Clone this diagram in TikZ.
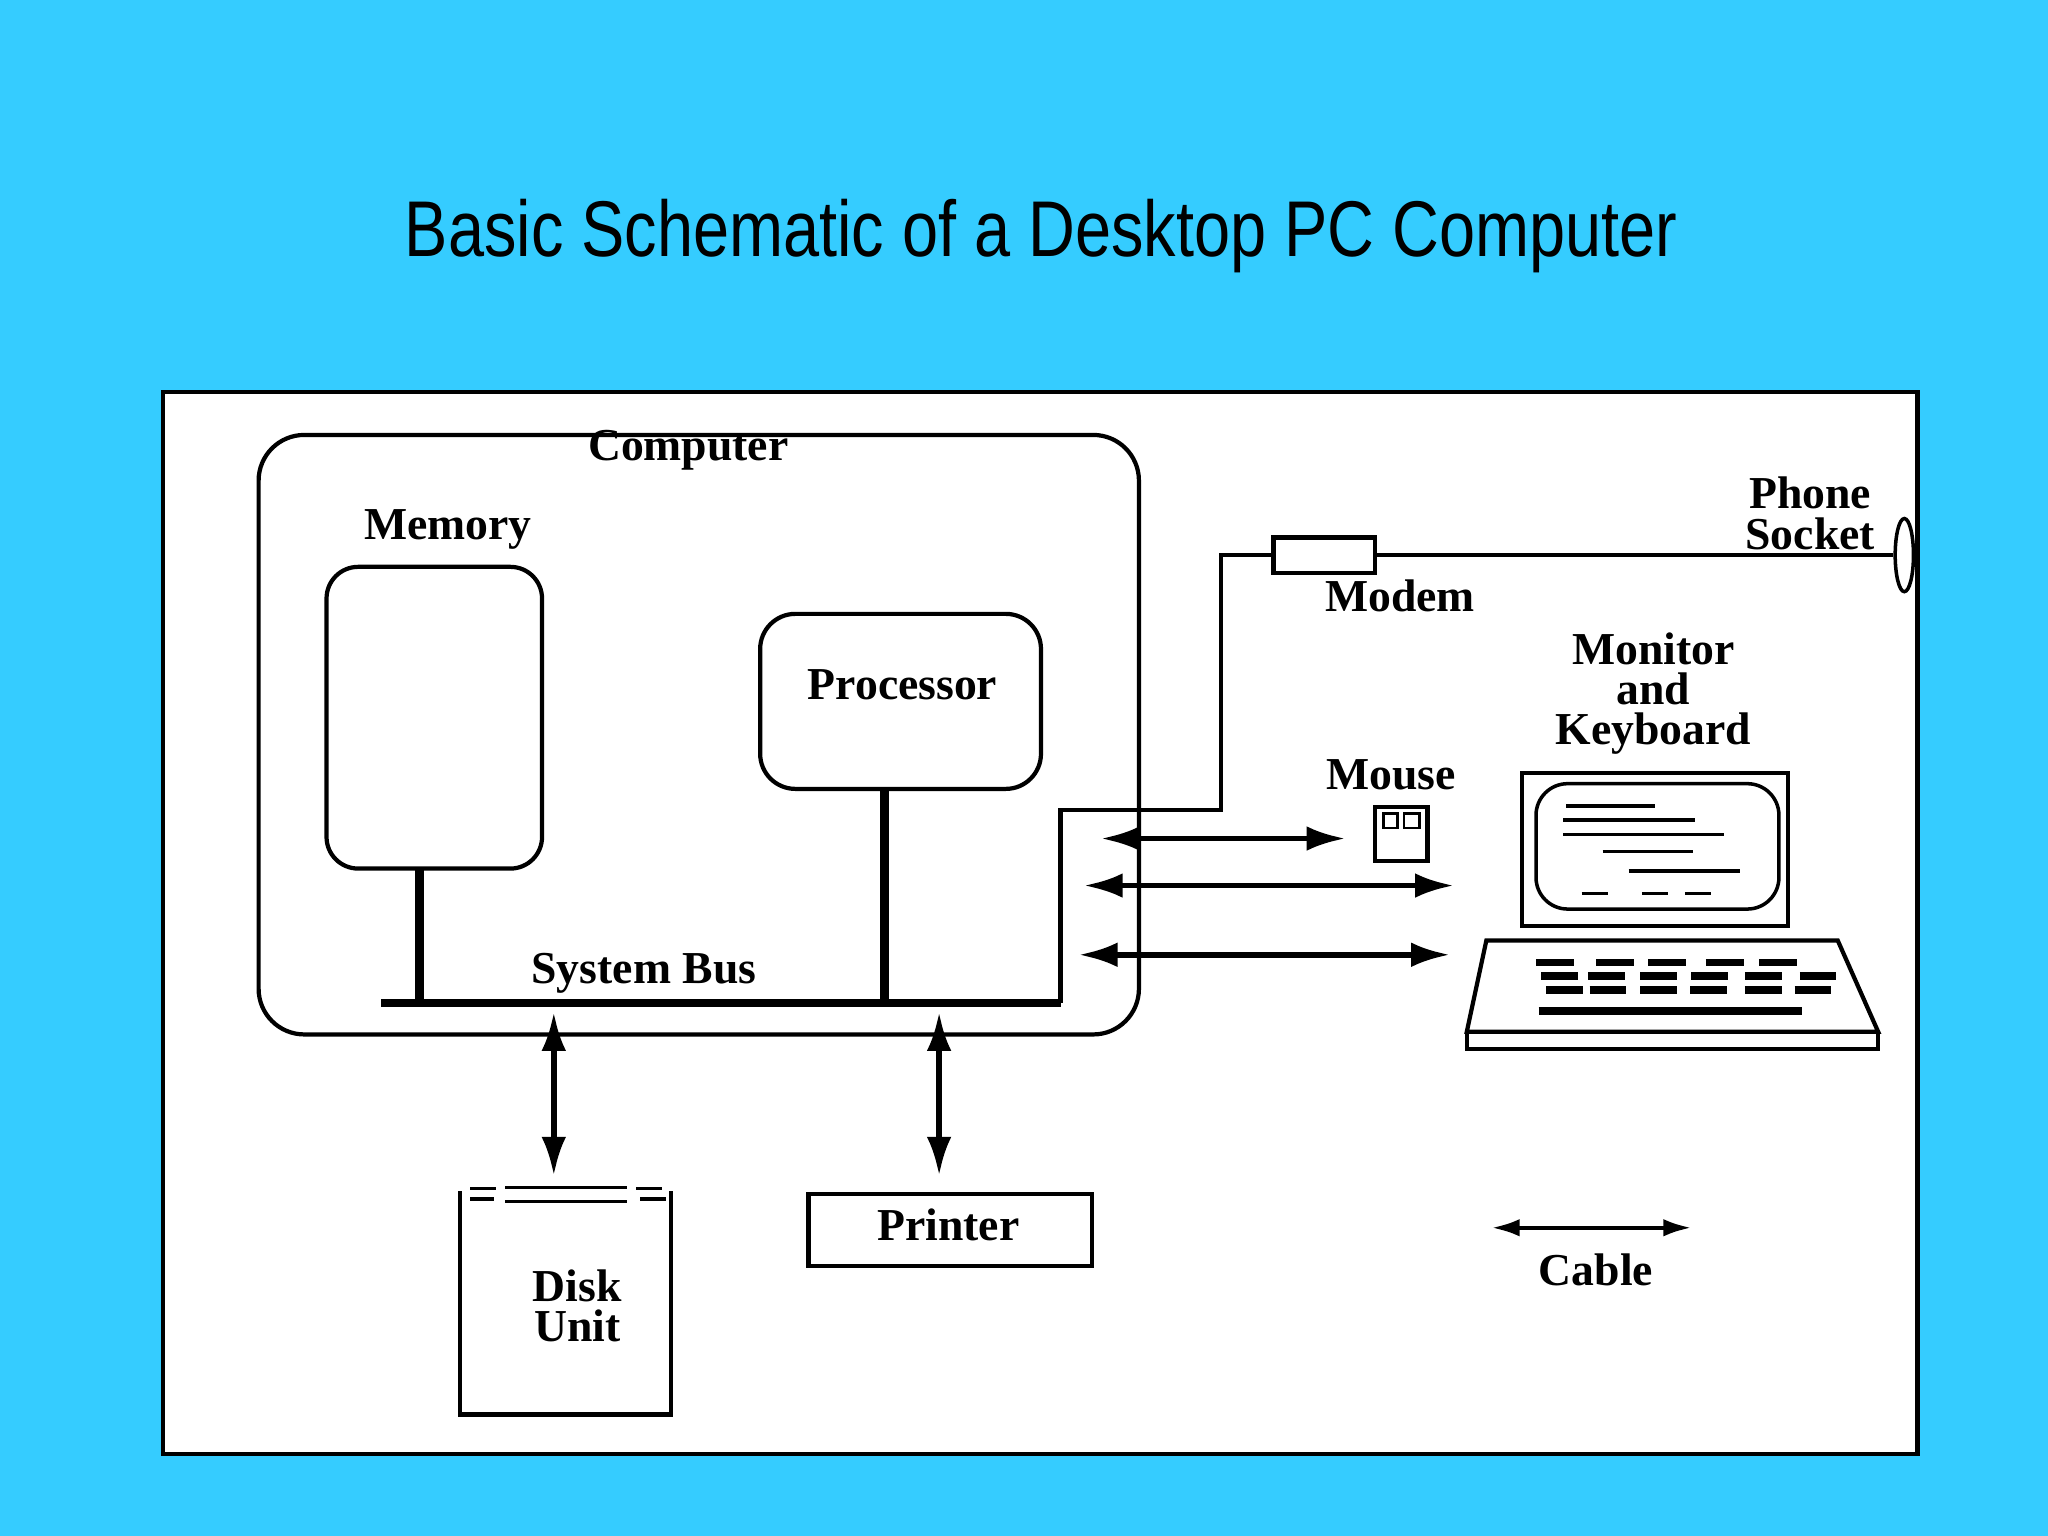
\documentclass[tikz,border=0pt]{standalone}
\usepackage{fontspec}
\setmainfont{Liberation Serif}
\newfontfamily\titlefont{Liberation Sans}[FakeStretch=0.82]
\usetikzlibrary{arrows.meta, shapes.geometric}
\definecolor{skyback}{RGB}{53,204,255}
\tikzset{lbl/.style = {font=\bfseries\fontsize{13}{11.5}\selectfont, align=center, inner sep=0pt}}
\tikzset{cable/.style = {line width=1.6pt, {Latex[length=11pt,width=7pt]}-{Latex[length=11pt,width=7pt]}}}
\tikzset{box/.style = {draw, line width=1.2pt}}
\begin{document}
\begin{tikzpicture}[x=0.013061cm, y=-0.013061cm]
    \fill[skyback] (0,0) rectangle (1568,1176);
    \useasboundingbox (0,0) rectangle (1568,1176);
    \node[font=\titlefont\fontsize{22.5}{26}\selectfont, inner sep=0pt] (title) at (797,181) {Basic Schematic of a Desktop PC Computer};
    \draw[fill=white, line width=1.2pt] (125,300) rectangle (1468,1113);
    
    % computer
    \draw[box, rounded corners=13pt] (198,333) rectangle (872,792);
    \node[lbl] (comp) at (527,345) {Computer};
    \node[lbl] (meml) at (343,405) {Memory};
    \draw[box, rounded corners=9pt] (250,434) rectangle (415,665);
    \coordinate (mem) at (321,665);
    \draw[box, rounded corners=10pt] (582,470) rectangle (797,604);
    \node[lbl] (proc) at (691,524) {Processor};
    \coordinate (procb) at (677,604);
    
    % bus
    \coordinate (busl) at (292,768);
    \coordinate (busr) at (812,768);
    \draw[line width=2.5pt] (busl) -- (busr);
    \draw[line width=2.5pt] (mem) -- (mem |- busl);
    \draw[line width=2.5pt] (procb) -- (procb |- busl);
    \node[lbl] (bus) at (493,745) {System Bus};
    
    % modem line
    \node[box, minimum width=78*0.013061cm, minimum height=27*0.013061cm, inner sep=0pt] (modem) at (1014,425) {};
    \node[lbl] (modeml) at (1072,456) {Modem};
    \node[draw, ellipse, line width=1pt, minimum width=14*0.013061cm, minimum height=56*0.013061cm, inner sep=0pt] (sock) at (1458,425) {};
    \node[lbl] (sockl) at (1386,393) {Phone\\Socket};
    \draw[line width=1.2pt] (busr) -- (812,620) -- (935,620) -- (935,425) -- (modem.west);
    \draw[line width=1.2pt] (modem.east) -- (sock.west);
    
    % disk and printer
    \coordinate (disk) at (424,900);
    \coordinate (prn) at (719,900);
    \draw[cable] (424,775) -- (disk);
    \draw[cable] (719,775) -- (prn);
    \draw[box] (352,912) -- (352,1083) -- (514,1083) -- (514,912);
    \draw[line width=1pt] (360,910) -- (380,910) (387,909) -- (480,909) (487,910) -- (507,910)
        (360,918) -- (378,918) (387,920) -- (480,920) (490,918) -- (510,918);
    \node[lbl] (diskl) at (442,1000) {Disk\\Unit};
    \draw[box] (619,914) rectangle (836,969);
    \node[lbl] (prnl) at (726,938) {Printer};
    
    % peripherals
    \node[lbl] (mousel) at (1065,593) {Mouse};
    \draw[box] (1053,618) rectangle (1093,659);
    \draw[line width=0.8pt] (1059,623) rectangle (1070,634) (1075,623) rectangle (1087,634);
    \node[lbl] (monl) at (1266,531) {Monitor\\and\\Keyboard};
    \draw[box] (1165,592) rectangle (1369,709);
    \draw[line width=1pt, rounded corners=9pt] (1176,600) rectangle (1362,696);
    \foreach \xa/\xb/\yy in {1199/1267/617, 1197/1298/628, 1197/1320/639, 1227/1296/652, 1247/1332/667}
        \draw[line width=1pt] (\xa,\yy) -- (\xb,\yy);
    \foreach \xa in {1211,1257,1290}
        \draw[line width=1pt] (\xa,684) -- (\xa+20,684);
    \draw[box] (1138,720) -- (1407,720) -- (1438,790) -- (1123,790) -- cycle;
    \draw[box] (1123,790) rectangle (1438,803);
    \foreach \xa in {1176,1222,1262,1306,1347}
        \draw[line width=2.2pt] (\xa,737) -- (\xa+29,737);
    \foreach \xa in {1180,1216,1256,1295,1336,1378}
        \draw[line width=2.2pt] (\xa,747) -- (\xa+28,747);
    \foreach \xa in {1184,1217,1256,1294,1336,1374}
        \draw[line width=2.2pt] (\xa,758) -- (\xa+28,758);
    \draw[line width=2.2pt] (1178,774) -- (1380,774);
    
    \coordinate (c1) at (1030,642);
    \coordinate (c2) at (1113,678);
    \coordinate (c3) at (1110,731);
    \draw[cable] (843,642) -- (c1);
    \draw[cable] (830,678) -- (c2);
    \draw[cable] (826,731) -- (c3);
    
    % legend
    \coordinate (leg) at (1295,940);
    \draw[line width=1.2pt, {Latex[length=8pt,width=5pt]}-{Latex[length=8pt,width=5pt]}] (1142,940) -- (leg);
    \node[lbl] (legl) at (1222,972) {Cable};
\end{tikzpicture}
\end{document}
